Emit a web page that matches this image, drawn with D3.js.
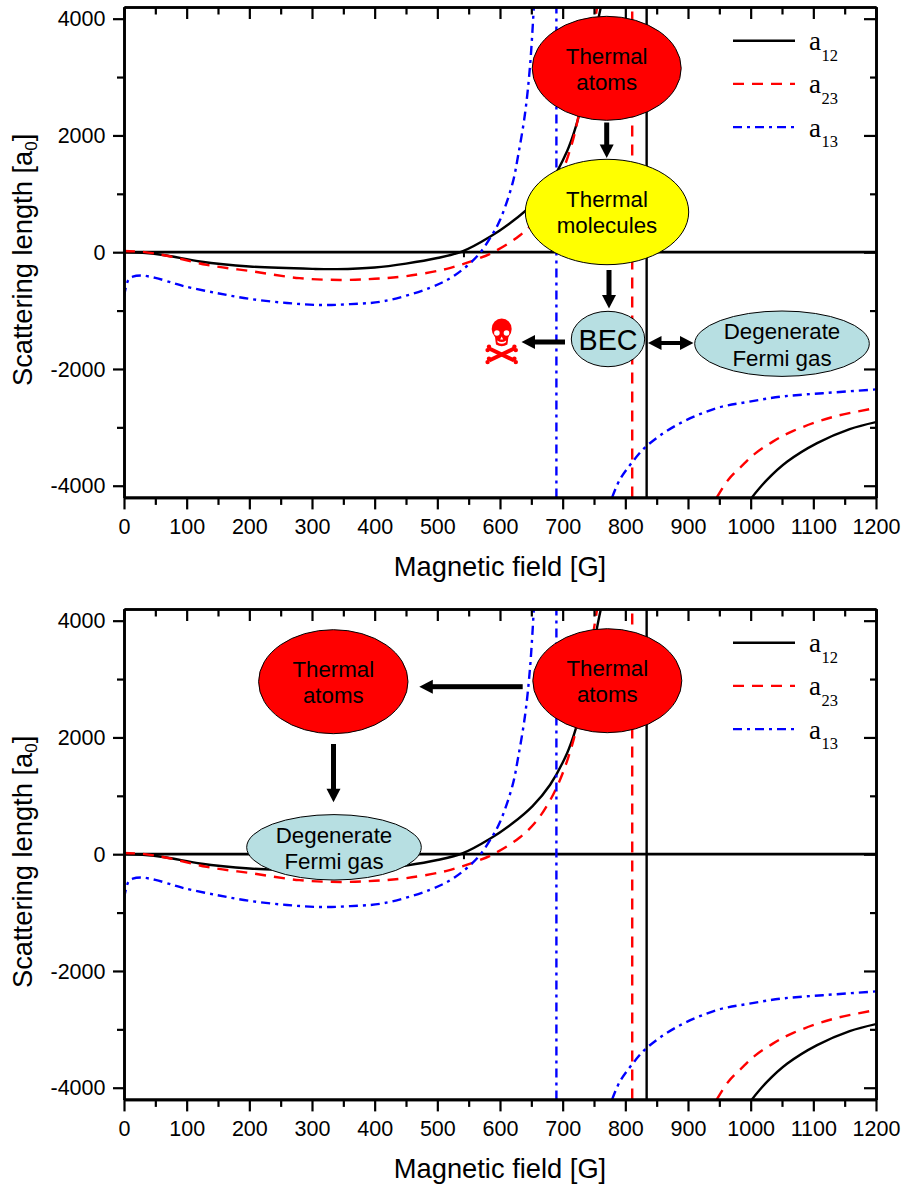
<!DOCTYPE html>
<html><head><meta charset="utf-8">
<style>html,body{margin:0;padding:0;background:#fff}svg{display:block}text{font-family:"Liberation Sans",Arial,sans-serif;fill:#000}</style>
<script src="https://cdn.jsdelivr.net/npm/d3@7"></script></head><body>
<script>
// Tick values
const xMajorTicks=[0,100,200,300,400,500,600,700,800,900,1000,1100,1200];
const xMinorTicks=[50,150,250,350,450,550,650,750,850,950,1050,1150];
const yMajorTicks=[-4000,-2000,0,2000,4000];
const yMinorTicks=[-3000,-1000,1000,3000];
// a12 (G, a0)
const a12Low=[[0,0],[30,-10],[68,-57],[121,-160],[200,-245],[302,-286],[340,-290],[400,-262],[450,-195],[500,-100],[540,15],[584,265],[620,530],[652,825],[680,1190],[707,1730],[721,2150],[735,2750],[750,3600],[757,4000],[761,4200]];
const a12Pole=[[834,-4200],[834,4200]];
const a12High=[[1002,-4200],[1026,-3900],[1058,-3590],[1106,-3270],[1158,-3030],[1200,-2910]];
// a23
const a23Low=[[0,20],[30,5],[68,-60],[132,-217],[206,-330],[280,-445],[345,-475],[400,-455],[450,-410],[515,-285],[568,-100],[592,15],[632,290],[659,580],[680,925],[696,1280],[709,1660],[720,2070],[735,2900],[752,4000],[755,4200]];
const a23Pole=[[811,-4200],[811,4200]];
const a23High=[[946,-4200],[964,-3900],[988,-3640],[1007,-3450],[1036,-3240],[1068,-3060],[1132,-2820],[1200,-2670]];
// a13
const a13Low=[[0,-760],[7,-475],[14,-420],[28,-400],[50,-440],[79,-530],[95,-580],[148,-700],[201,-800],[260,-870],[313,-905],[360,-890],[414,-840],[488,-610],[528,-395],[565,-50],[587,290],[600,550],[620,1180],[629,1660],[640,2380],[648,3200],[654,4200]];
const a13Pole=[[690,-4200],[690,4200]];
const a13High=[[779,-4200],[791,-3900],[810,-3610],[834,-3320],[882,-2960],[946,-2670],[998,-2560],[1052,-2470],[1122,-2410],[1200,-2350]];
const seriesNames=["12","23","13"];
const seriesColors=["#000","#f00","#00f"];
const seriesDash=[null,"11 8","9 5 3 5"];

const W=904,H=1188;
const svg=d3.select("body").append("svg").attr("width",W).attr("height",H);
let clipId=0;

function arrow(g,x1,y1,x2,y2,sw=5,double=false){
  const a=Math.atan2(y2-y1,x2-x1),L=Math.hypot(x2-x1,y2-y1),hl=13.5,hw=7;
  const t=g.append("g").attr("transform",`translate(${x1},${y1}) rotate(${a*180/Math.PI})`);
  t.append("rect").attr("x",double?hl-1:0).attr("y",-sw/2).attr("width",double?L-2*hl+2:L-hl+1).attr("height",sw).attr("fill","#000");
  t.append("path").attr("d",`M${L},0L${L-hl},${-hw}L${L-hl},${hw}Z`).attr("fill","#000");
  if(double)t.append("path").attr("d",`M0,0L${hl},${-hw}L${hl},${hw}Z`).attr("fill","#000");
}
function bubble(g,cx,cy,rx,ry,fill,lines,size=22.3){
  g.append("ellipse").attr("cx",cx).attr("cy",cy).attr("rx",rx).attr("ry",ry).attr("fill",fill).attr("stroke","#000").attr("stroke-width",1);
  lines.forEach(l=>g.append("text").attr("x",cx).attr("y",l[1]).attr("text-anchor","middle").attr("font-size",size).text(l[0]));
}
function skull(g,cx,cy){
  const s=g.append("g").attr("transform",`translate(${cx},${cy})`);
  const red="#f00";
  [[-12.5,7.5,12.5,19.5],[12.5,7.5,-12.5,19.5]].forEach(b=>{
    s.append("line").attr("x1",b[0]).attr("y1",b[1]).attr("x2",b[2]).attr("y2",b[3]).attr("stroke",red).attr("stroke-width",4);
    [[b[0],b[1]],[b[2],b[3]]].forEach(p=>{
      const dx=p[0]<0?-1:1;
      s.append("circle").attr("cx",p[0]+dx*0.2).attr("cy",p[1]-1.8).attr("r",2.2).attr("fill",red);
      s.append("circle").attr("cx",p[0]+dx*1.6).attr("cy",p[1]+1.6).attr("r",2.2).attr("fill",red);
    });
  });
  s.append("ellipse").attr("cx",0).attr("cy",-12).attr("rx",10).attr("ry",10.5).attr("fill",red);
  s.append("path").attr("d","M-7,-6L7,-6L5.7,3.5Q0,7 -5.7,3.5Z").attr("fill",red);
  s.append("circle").attr("cx",-4.8).attr("cy",-8).attr("r",2.8).attr("fill","#fff");
  s.append("circle").attr("cx",4.8).attr("cy",-8).attr("r",2.8).attr("fill","#fff");
  s.append("path").attr("d","M0,-4.5L1.5,-1.5L-1.5,-1.5Z").attr("fill","#fff");
  s.append("path").attr("d","M-4.5,-0.5Q0,2.5 4.5,-0.5L4,1.5Q0,4 -4,1.5Z").attr("fill","#fff");
}

function panel(top,bottom,dyLegend,annot){
  const x=d3.scaleLinear().domain([0,1200]).range([124,876]);
  const y=d3.scaleLinear().domain([-4200,4200]).range([bottom,top]);
  const g=svg.append("g");
  const id="clip"+(clipId++);
  g.append("clipPath").attr("id",id).append("rect").attr("x",124).attr("y",top).attr("width",752).attr("height",bottom-top);
  const plot=g.append("g").attr("clip-path",`url(#${id})`);
  const smooth=d3.line().x(d=>x(d[0])).y(d=>y(d[1])).curve(d3.curveCatmullRom.alpha(0.5));
  const straight=d3.line().x(d=>x(d[0])).y(d=>y(d[1]));
  // zero line
  plot.append("line").attr("x1",x(0)).attr("x2",x(1200)).attr("y1",y(0)).attr("y2",y(0)).attr("stroke","#000").attr("stroke-width",2.8);
  plot.append("line").attr("x1",x(542.5)).attr("x2",x(542.5)).attr("y1",y(0)).attr("y2",y(0)+5).attr("stroke","#000").attr("stroke-width",2);
  [[a12Low,a12Pole,a12High],[a23Low,a23Pole,a23High],[a13Low,a13Pole,a13High]].forEach((s,i)=>{
    [smooth(s[0]),straight(s[1]),smooth(s[2])].forEach((d,j)=>{
      plot.append("path").attr("d",d).attr("fill","none").attr("stroke",seriesColors[i]).attr("stroke-width",2.4)
        .attr("stroke-dasharray",seriesDash[i]);
    });
  });
  // axes
  const ax=(gen,tr,vals,sz,labels)=>{
    const a=g.append("g").attr("transform",tr).call(gen.tickValues(vals).tickSize(sz).tickSizeOuter(0).tickPadding(6).tickFormat(labels?String:""));
    a.selectAll(".domain").attr("stroke","#000").attr("stroke-width",2.6);
    a.selectAll("line").attr("stroke","#000").attr("stroke-width",2.2);
    a.selectAll("text").attr("font-size",21.5).style("font-family",'"Liberation Sans",Arial,sans-serif').attr("fill","#000");
    return a;
  };
  ax(d3.axisBottom(x),`translate(0,${bottom})`,xMajorTicks,12,true).selectAll("text").attr("dy",null).attr("y",36.5);
  ax(d3.axisBottom(x),`translate(0,${bottom})`,xMinorTicks,7.5,false);
  ax(d3.axisBottom(x),`translate(0,${top})`,xMajorTicks,12,false);
  ax(d3.axisBottom(x),`translate(0,${top})`,xMinorTicks,7.5,false);
  ax(d3.axisLeft(y),`translate(124,0)`,yMajorTicks,11,true).selectAll("text").attr("x",-18.5).attr("dy","0.33em");
  ax(d3.axisLeft(y),`translate(124,0)`,yMinorTicks,7,false);
  ax(d3.axisLeft(y),`translate(876,0)`,yMajorTicks,12,false);
  ax(d3.axisLeft(y),`translate(876,0)`,yMinorTicks,6,false);
  // titles
  g.append("text").attr("x",500).attr("y",bottom+78.5).attr("text-anchor","middle").attr("font-size",27.3).text("Magnetic field [G]");
  const yt=g.append("text").attr("transform",`translate(32,${top+379}) rotate(-90)`).attr("font-size",27.3);
  yt.append("tspan").text("Scattering length [a");
  yt.append("tspan").attr("font-size",17).attr("dy",5).text("0");
  yt.append("tspan").attr("dy",-5).text("]");
  // annotations
  annot(g);
  // legend
  seriesNames.forEach((n,i)=>{
    const yy=40.7+dyLegend+i*43.2;
    g.append("line").attr("x1",733).attr("x2",795).attr("y1",yy).attr("y2",yy).attr("stroke",seriesColors[i]).attr("stroke-width",2.4).attr("stroke-dasharray",seriesDash[i]);
    const t=g.append("text").attr("x",809).attr("y",yy+9.5).style("font-family",'"Liberation Serif","Times New Roman",serif').attr("font-size",27).text("a");
    t.append("tspan").attr("font-size",16.5).attr("dy",10.5).attr("dx",0.5).text(n);
  });
}

panel(7,497.4,0,g=>{
  arrow(g,606.7,122.5,606.7,158);
  arrow(g,609,270,609,308.5);
  arrow(g,565,342,521.5,342);
  arrow(g,648,343,693.5,343,4,true);
  bubble(g,606.7,68.3,74.5,52,"#f00",[["Thermal",63.5],["atoms",89.5]]);
  bubble(g,607,212,81.7,52.7,"#ff0",[["Thermal",206.7],["molecules",233.3]]);
  bubble(g,608,339,36.7,27.7,"#b7dfe2",[["BEC",349.5]],28.7);
  bubble(g,782,343.7,87.3,32.7,"#b7dfe2",[["Degenerate",338.5],["Fermi gas",365.5]]);
  skull(g,501.7,341);
});
panel(609,1099.4,602,g=>{
  arrow(g,522.7,686.7,419.3,686.7);
  arrow(g,333.5,744,333.5,802.3);
  bubble(g,333.3,681.7,74.7,52,"#f00",[["Thermal",676.7],["atoms",703.3]]);
  bubble(g,607.3,680.7,74.5,52,"#f00",[["Thermal",676],["atoms",701.7]]);
  bubble(g,334,847.3,87.3,32.7,"#b7dfe2",[["Degenerate",842.7],["Fermi gas",868.7]]);
});
</script></body></html>
